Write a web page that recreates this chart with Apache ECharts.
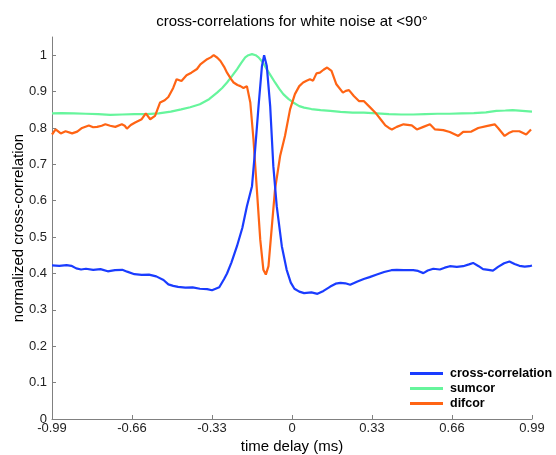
<!DOCTYPE html>
<html>
<head>
<meta charset="utf-8">
<script src="https://cdn.jsdelivr.net/npm/echarts@6/dist/echarts.min.js"></script>
<style>html,body{margin:0;padding:0;background:#fff;}#c{width:556px;height:455px;}</style>
</head>
<body>
<div id="c"></div>
<script>
const xTicks = [-0.99, -0.66, -0.33, 0, 0.33, 0.66, 0.99];
const yTicks = [0, 0.1, 0.2, 0.3, 0.4, 0.5, 0.6, 0.7, 0.8, 0.9, 1];
const seriesNames = ['cross-correlation', 'sumcor', 'difcor'];

const crossX = [-0.99,-0.96,-0.93,-0.91,-0.89,-0.87,-0.85,-0.82,-0.79,-0.76,-0.73,-0.70,-0.68,-0.65,-0.62,-0.59,-0.56,-0.53,-0.51,-0.49,-0.47,-0.44,-0.41,-0.38,-0.35,-0.33,-0.30,-0.28,-0.268,-0.25,-0.227,-0.205,-0.186,-0.165,-0.152,-0.138,-0.124,-0.115,-0.104,-0.090,-0.077,-0.063,-0.042,-0.022,-0.005,0.01,0.03,0.05,0.08,0.105,0.13,0.158,0.18,0.20,0.22,0.24,0.27,0.296,0.32,0.35,0.38,0.41,0.432,0.46,0.50,0.52,0.542,0.56,0.583,0.61,0.63,0.651,0.68,0.706,0.73,0.747,0.77,0.788,0.81,0.829,0.85,0.875,0.897,0.918,0.938,0.96,0.979,0.99];
const crossY = [0.422,0.421,0.423,0.421,0.414,0.411,0.413,0.410,0.412,0.406,0.409,0.410,0.405,0.398,0.396,0.397,0.392,0.382,0.370,0.366,0.363,0.361,0.362,0.358,0.357,0.354,0.362,0.385,0.400,0.430,0.475,0.525,0.585,0.640,0.741,0.860,0.970,1.000,0.970,0.860,0.695,0.585,0.475,0.410,0.375,0.358,0.350,0.346,0.348,0.344,0.352,0.364,0.372,0.374,0.373,0.369,0.378,0.385,0.390,0.397,0.404,0.409,0.410,0.409,0.409,0.407,0.401,0.408,0.413,0.411,0.416,0.420,0.418,0.420,0.425,0.429,0.420,0.412,0.410,0.408,0.418,0.428,0.433,0.426,0.421,0.419,0.420,0.422];

const sumX = [-0.99,-0.95,-0.90,-0.85,-0.80,-0.75,-0.70,-0.65,-0.60,-0.55,-0.50,-0.457,-0.42,-0.38,-0.342,-0.309,-0.288,-0.268,-0.247,-0.227,-0.21,-0.193,-0.18,-0.165,-0.15,-0.138,-0.12,-0.104,-0.087,-0.07,-0.053,-0.036,-0.015,0.005,0.03,0.05,0.08,0.118,0.158,0.20,0.25,0.296,0.35,0.40,0.45,0.50,0.55,0.60,0.65,0.70,0.75,0.80,0.843,0.88,0.91,0.95,0.99];
const sumY = [0.840,0.841,0.840,0.839,0.838,0.836,0.837,0.838,0.838,0.840,0.845,0.851,0.857,0.865,0.879,0.897,0.910,0.925,0.943,0.961,0.978,0.994,1.000,1.003,1.000,0.994,0.980,0.961,0.943,0.925,0.908,0.893,0.880,0.870,0.860,0.856,0.852,0.849,0.847,0.844,0.842,0.842,0.840,0.838,0.837,0.837,0.838,0.839,0.839,0.840,0.841,0.843,0.847,0.848,0.849,0.847,0.845];

const difX = [-0.99,-0.975,-0.954,-0.934,-0.907,-0.886,-0.866,-0.838,-0.82,-0.804,-0.785,-0.77,-0.75,-0.729,-0.702,-0.69,-0.681,-0.665,-0.647,-0.62,-0.603,-0.585,-0.565,-0.544,-0.525,-0.51,-0.49,-0.476,-0.456,-0.435,-0.415,-0.392,-0.378,-0.35,-0.335,-0.323,-0.308,-0.295,-0.28,-0.268,-0.252,-0.241,-0.225,-0.213,-0.2,-0.186,-0.172,-0.159,-0.145,-0.131,-0.118,-0.108,-0.097,-0.083,-0.07,-0.049,-0.029,-0.008,0.012,0.03,0.046,0.06,0.074,0.087,0.101,0.115,0.13,0.145,0.163,0.183,0.21,0.222,0.235,0.255,0.276,0.296,0.317,0.344,0.371,0.385,0.40,0.412,0.432,0.46,0.494,0.515,0.542,0.569,0.59,0.624,0.651,0.686,0.706,0.74,0.768,0.802,0.836,0.85,0.877,0.894,0.911,0.938,0.966,0.986];
const difY = [0.782,0.796,0.785,0.791,0.785,0.790,0.800,0.807,0.802,0.803,0.806,0.810,0.806,0.803,0.810,0.806,0.798,0.808,0.815,0.824,0.840,0.824,0.833,0.870,0.876,0.885,0.910,0.934,0.929,0.945,0.952,0.962,0.975,0.989,0.994,1.000,0.993,0.984,0.968,0.952,0.935,0.925,0.918,0.915,0.910,0.915,0.870,0.769,0.631,0.493,0.410,0.397,0.420,0.530,0.631,0.723,0.778,0.851,0.893,0.915,0.925,0.930,0.934,0.930,0.950,0.952,0.960,0.966,0.957,0.920,0.897,0.902,0.904,0.888,0.874,0.874,0.860,0.842,0.819,0.807,0.800,0.796,0.803,0.810,0.807,0.796,0.803,0.810,0.796,0.794,0.789,0.778,0.789,0.790,0.800,0.805,0.810,0.800,0.778,0.786,0.791,0.791,0.782,0.796];

const colors = ['#1a3cff', '#66f59c', '#ff6414'];
const FONT = 'Liberation Sans, Arial, sans-serif';

function pairs(xs, ys) { return xs.map((x, i) => [x, ys[i]]); }

const chart = echarts.init(document.getElementById('c'), null, {renderer: 'canvas'});
chart.setOption({
  animation: false,
  backgroundColor: '#ffffff',
  title: {
    text: 'cross-correlations for white noise at <90°',
    left: 292, top: 14, textAlign: 'center', padding: 0,
    textStyle: {fontFamily: FONT, fontSize: 15, fontWeight: 'normal', color: '#000'}
  },
  grid: {left: 52, right: 24, top: 37, bottom: 36, containLabel: false, outerBoundsMode: 'none'},
  legend: {
    orient: 'vertical', left: 410, top: 367, padding: 0,
    itemWidth: 33, itemHeight: 3, itemGap: 2, icon: 'rect',
    textStyle: {fontFamily: FONT, fontSize: 12.5, fontWeight: 'bold', color: '#000', padding: [0,0,0,2]},
    data: seriesNames
  },
  xAxis: {
    type: 'value', min: -0.99, max: 0.99, interval: 0.33,
    name: 'time delay (ms)', nameLocation: 'middle', nameGap: 20, nameMoveOverlap: false,
    nameTextStyle: {fontFamily: FONT, fontSize: 15, color: '#000'},
    axisLine: {onZero: false, lineStyle: {color: '#808080', width: 1}},
    axisTick: {inside: true, length: 4, lineStyle: {color: '#808080'}},
    axisLabel: {fontFamily: FONT, fontSize: 13, color: '#222', margin: 3,
      formatter: v => { const r = Math.round(v*100)/100; return xTicks.some(t => Math.abs(t-r) < 1e-6) ? String(r) : ''; }},
    splitLine: {show: false}
  },
  yAxis: {
    type: 'value', min: 0, max: 1.05, interval: 0.1,
    name: 'normalized cross-correlation', nameLocation: 'middle', nameGap: 26, nameRotate: 90, nameMoveOverlap: false,
    nameTextStyle: {fontFamily: FONT, fontSize: 15, color: '#000'},
    axisLine: {show: true, onZero: false, lineStyle: {color: '#808080', width: 1}},
    axisTick: {show: true, inside: true, length: 4, lineStyle: {color: '#808080'}},
    axisLabel: {fontFamily: FONT, fontSize: 13, color: '#222', margin: 5, showMaxLabel: false,
      formatter: v => { const r = Math.round(v*10)/10; return yTicks.some(t => Math.abs(t-r) < 1e-6) && v <= 1.0001 ? String(r) : ''; }},
    splitLine: {show: false}
  },
  series: [
    {name: seriesNames[0], type: 'line', data: pairs(crossX, crossY), showSymbol: false, symbol: 'none', z: 5,
     lineStyle: {color: colors[0], width: 2.2}, itemStyle: {color: colors[0]}},
    {name: seriesNames[1], type: 'line', data: pairs(sumX, sumY), showSymbol: false, symbol: 'none', z: 3,
     lineStyle: {color: colors[1], width: 2.2}, itemStyle: {color: colors[1]}},
    {name: seriesNames[2], type: 'line', data: pairs(difX, difY), showSymbol: false, symbol: 'none', z: 4,
     lineStyle: {color: colors[2], width: 2.2}, itemStyle: {color: colors[2]}}
  ]
});
</script>
</body>
</html>
